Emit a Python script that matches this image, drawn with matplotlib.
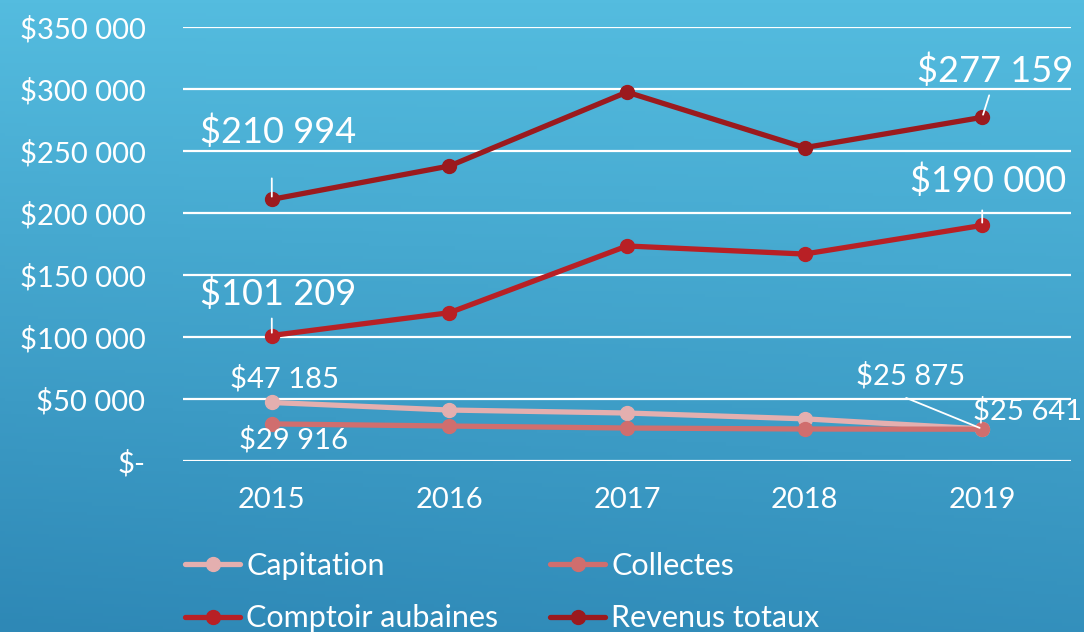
import numpy as np
import matplotlib
matplotlib.use("Agg")
import matplotlib.pyplot as plt
from matplotlib.colors import LinearSegmentedColormap

plt.rcParams['font.family'] = ['Lato', 'DejaVu Sans']

years = ["2015", "2016", "2017", "2018", "2019"]
capitation = [47185, 41100, 38700, 34000, 25875]
collectes = [29916, 28200, 26600, 25800, 25641]
comptoir = [101209, 119600, 173400, 166900, 190000]
revenus = [210994, 237900, 297500, 252700, 277159]

series_names = ["Capitation", "Collectes", "Comptoir aubaines", "Revenus totaux"]
series_values = [capitation, collectes, comptoir, revenus]
series_colors = ["#E4AFAF", "#D06E6E", "#B82025", "#9B1A1E"]

yticks = [0, 50000, 100000, 150000, 200000, 250000, 300000, 350000]
ytick_labels = ["$-", "$50 000", "$100 000", "$150 000", "$200 000",
                "$250 000", "$300 000", "$350 000"]

W, H = 1084, 632
fig = plt.figure(figsize=(W / 100, H / 100), dpi=100)

# gradient background
bg = fig.add_axes([0, 0, 1, 1], zorder=-10)
yy, xx = np.mgrid[0:1:200j, 0:1:200j]
t = 0.85 * yy + 0.15 * (1 - xx) * yy
cmap = LinearSegmentedColormap.from_list("bg", ["#54BCDF", "#2E88B6"])
bg.imshow(t, cmap=cmap, aspect="auto", extent=[0, 1, 0, 1], origin="upper")
bg.axis("off")

ax = fig.add_axes([183 / W, (H - 461) / H, (1071 - 183) / W, (461 - 27) / H])
ax.set_facecolor("none")
x = np.arange(len(years))
lines = []
for name, vals, col in zip(series_names, series_values, series_colors):
    ln, = ax.plot(x, vals, color=col, lw=3.8, marker="o", markersize=10,
                  label=name, solid_capstyle="round", zorder=3)
    lines.append(ln)

ax.set_xlim(-0.5, len(years) - 0.5)
ax.set_ylim(0, 350000)
ax.set_yticks(yticks)
ax.set_yticklabels(ytick_labels)
ax.set_xticks(x)
ax.set_xticklabels(years)
ax.grid(axis="y", color="white", lw=1.6, zorder=0)
ax.set_axisbelow(True)
for s in ax.spines.values():
    s.set_visible(False)
ax.tick_params(axis="both", length=0, colors="white", labelsize=21)
ax.tick_params(axis="y", pad=27)
ax.tick_params(axis="x", pad=19)

# data labels (text offset in pixels from data point)
def label(ix, val, text, off, size=21, ha="center", leader=None):
    ax.annotate(text, xy=(ix, val), xytext=off, textcoords="offset pixels",
                ha=ha, va="center", color="white", fontsize=size, zorder=5)
    if leader is not None:
        ax.annotate("", xy=(ix, val), xytext=leader, textcoords="offset pixels",
                    arrowprops=dict(arrowstyle="-", color="white", lw=1.3,
                                    shrinkA=0, shrinkB=2), zorder=5)

label(0, revenus[0], "$210 994", (6, 68), size=26, leader=(0, 21))
label(0, comptoir[0], "$101 209", (6, 42), size=26, leader=(0, 17))
label(4, revenus[4], "$277 159", (13, 47), size=26, leader=(7, 22))
label(4, comptoir[4], "$190 000", (6, 45), size=26, leader=(0, 15))
label(0, capitation[0], "$47 185", (13, 24))
label(0, collectes[0], "$29 916", (22, -16))
label(4, capitation[4], "$25 875", (-72, 53), leader=(-76, 31))
label(4, collectes[4], "$25 641", (45, 18))

# row-wise legend order: Capitation, Collectes / Comptoir, Revenus
order = [0, 2, 1, 3]
leg = fig.legend([lines[i] for i in order], [series_names[i] for i in order],
                 loc="upper left", bbox_to_anchor=(185 / W, 1 - 552 / H),
                 ncol=2, frameon=False, fontsize=22, labelcolor="white",
                 handlelength=1.8, handletextpad=0.2, columnspacing=1.7,
                 labelspacing=0.8, borderaxespad=0, borderpad=0)

fig.savefig("out.png", dpi=100)
